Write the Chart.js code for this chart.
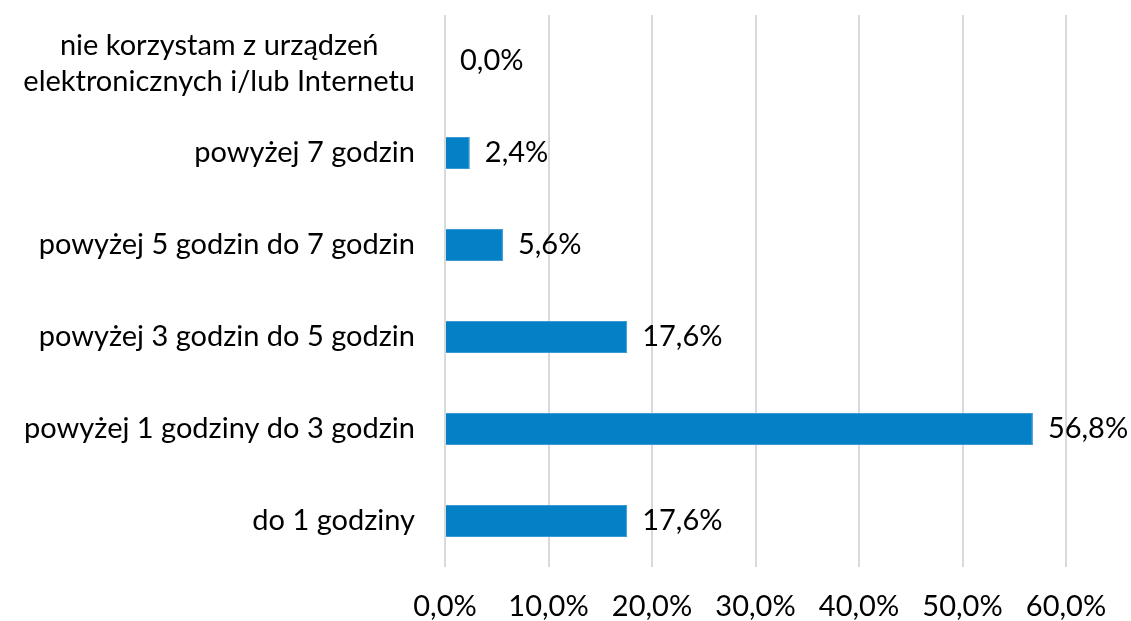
<!DOCTYPE html>
<html>
<head>
<meta charset="utf-8">
<script src="https://cdn.jsdelivr.net/npm/chart.js@4"></script>
<style>
  html, body { margin: 0; padding: 0; background: #fff; }
  #wrap { width: 1131px; height: 621px; }
</style>
</head>
<body>
<div id="wrap"><canvas id="czasChart"></canvas></div>
<script>
// dane
const kategorie = [
    ['nie korzystam z urządzeń', 'elektronicznych i/lub Internetu'],
    'powyżej 7 godzin',
    'powyżej 5 godzin do 7 godzin',
    'powyżej 3 godzin do 5 godzin',
    'powyżej 1 godziny do 3 godzin',
    'do 1 godziny'
];
const wartosci = [0.0, 2.4, 5.6, 17.6, 56.8, 17.6];
const osX = [0, 10, 20, 30, 40, 50, 60];

const FONT = 'Lato, "Open Sans", sans-serif';
const ROZMIAR = 29;

function procent(v) {
    return v.toFixed(1).replace('.', ',') + '%';
}

// etykiety wartości obok słupków + wyśrodkowane etykiety wielowierszowe
const etykietyPlugin = {
    id: 'etykiety',
    afterDatasetsDraw(chart) {
        const ctx = chart.ctx;
        const meta = chart.getDatasetMeta(0);
        const osY = chart.scales.y;
        ctx.save();
        ctx.font = ROZMIAR + 'px ' + FONT;
        ctx.fillStyle = '#000';
        ctx.textBaseline = 'middle';
        meta.data.forEach((bar, i) => {
            ctx.textAlign = 'left';
            ctx.fillText(procent(wartosci[i]), bar.x + 15, bar.y);

            const k = kategorie[i];
            if (Array.isArray(k)) {
                // Excel centruje wiersze względem siebie
                const szer = Math.max(...k.map(t => ctx.measureText(t).width));
                const prawa = osY.right - 30;
                const srodek = prawa - szer / 2;
                const krok = 36;
                const y0 = bar.y + 3 - (k.length - 1) * krok / 2;
                ctx.textAlign = 'center';
                k.forEach((t, j) => ctx.fillText(t, srodek, y0 + j * krok));
            }
        });
        ctx.restore();
    }
};

new Chart(document.getElementById('czasChart'), {
    type: 'bar',
    data: {
        labels: kategorie,
        datasets: [{
            data: wartosci,
            backgroundColor: '#0481C6',
            borderColor: '#3C9BD6',
            borderWidth: 1,
            categoryPercentage: 1,
            barPercentage: 0.35
        }]
    },
    options: {
        indexAxis: 'y',
        responsive: true,
        maintainAspectRatio: false,
        animation: false,
        layout: { padding: { top: 15, right: 65, left: 0, bottom: 0 } },
        plugins: {
            legend: { display: false },
            tooltip: { enabled: false }
        },
        scales: {
            x: {
                min: 0,
                max: 60,
                afterBuildTicks(scale) {
                    scale.ticks = osX.map(v => ({ value: v }));
                },
                afterFit(scale) {
                    scale.height = 54;
                    scale.paddingLeft = 0;
                    scale.paddingRight = 0;
                },
                grid: { color: '#D9D9D9', lineWidth: 2, drawTicks: false },
                border: { display: false },
                ticks: {
                    padding: 22,
                    color: '#000',
                    font: { family: FONT, size: ROZMIAR },
                    callback: v => procent(v)
                }
            },
            y: {
                afterFit(scale) {
                    scale.width = 445;
                    scale.paddingTop = 0;
                    scale.paddingBottom = 0;
                },
                grid: { display: false, drawTicks: false },
                border: { display: false },
                ticks: {
                    padding: 30,
                    color: '#000',
                    font: { family: FONT, size: ROZMIAR },
                    // etykieta wielowierszowa rysowana w pluginie
                    callback: (v, i) => Array.isArray(kategorie[i]) ? '' : kategorie[i]
                }
            }
        }
    },
    plugins: [etykietyPlugin]
});
</script>
</body>
</html>
